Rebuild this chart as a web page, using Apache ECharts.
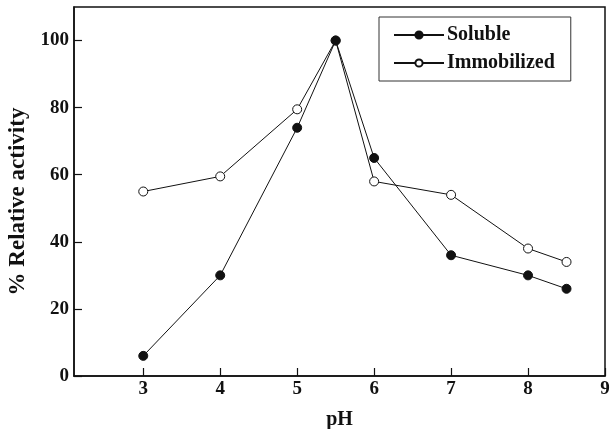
<!DOCTYPE html>
<html><head><meta charset="utf-8">
<script src="https://cdn.jsdelivr.net/npm/echarts@6/dist/echarts.min.js"></script>
<style>html,body{margin:0;padding:0;background:#fff}#c{width:612px;height:429px}</style>
</head><body><div id="c"></div>
<script>
var pH = [3, 4, 5, 5.5, 6, 7, 8, 8.5];
var soluble = [6, 30, 74, 100, 65, 36, 30, 26];
var immobilized = [55, 59.5, 79.5, 100, 58, 54, 38, 34];
var xTicks = [3, 4, 5, 6, 7, 8, 9];
var yTicks = [0, 20, 40, 60, 80, 100];
var FONT = '"Liberation Serif", "Times New Roman", serif';

function pairs(xs, ys){ return xs.map(function(x,i){return [x, ys[i]];}); }

var chart = echarts.init(document.getElementById('c'), null, {renderer:'canvas'});
chart.setOption({
  animation: false,
  grid: {left: 74, right: 7, top: 7, bottom: 53, show: true, borderColor: '#111', borderWidth: 1.5, containLabel: false, outerBoundsMode: 'none'},
  legend: {
    orient: 'vertical', left: 379, top: 17,
    padding: [8, 16, 8, 14], itemGap: 8,
    itemWidth: 50, itemHeight: 9,
    borderColor: '#333', borderWidth: 1,
    textStyle: {fontFamily: FONT, fontWeight: 'bold', fontSize: 20, color: '#111', padding: [0,0,0,-2]},
    data: ['Soluble', 'Immobilized']
  },
  xAxis: {
    type: 'value', min: 2.1, max: 9,
    name: 'pH', nameLocation: 'middle', nameGap: 34,
    nameTextStyle: {fontFamily: FONT, fontWeight: 'bold', fontSize: 20, color: '#111'},
    axisLine: {show: true, lineStyle: {color: '#111', width: 1.5}},
    axisTick: {show: true, inside: true, length: 8, customValues: xTicks, lineStyle: {color: '#111', width: 1.2}},
    axisLabel: {customValues: xTicks, fontFamily: FONT, fontWeight: 'bold', fontSize: 19, color: '#111', margin: 4},
    splitLine: {show: false}
  },
  yAxis: {
    type: 'value', min: 0, max: 110,
    name: '% Relative activity', nameLocation: 'middle', nameGap: 42,
    nameTextStyle: {fontFamily: FONT, fontWeight: 'bold', fontSize: 23, color: '#111', padding: [0,0,0,-20]},
    axisLine: {show: true, lineStyle: {color: '#111', width: 1.5}},
    axisTick: {show: true, inside: true, length: 8, customValues: yTicks, lineStyle: {color: '#111', width: 1.2}},
    axisLabel: {customValues: yTicks, fontFamily: FONT, fontWeight: 'bold', fontSize: 19, color: '#111', margin: 5},
    splitLine: {show: false}
  },
  series: [
    {name: 'Soluble', type: 'line', data: pairs(pH, soluble), symbol: 'circle', symbolSize: 9,
     lineStyle: {color: '#111', width: 1}, itemStyle: {color: '#111', borderColor: '#111', borderWidth: 1}, z: 3},
    {name: 'Immobilized', type: 'line', data: pairs(pH, immobilized), symbol: 'circle', symbolSize: 9,
     lineStyle: {color: '#111', width: 1}, itemStyle: {color: '#fff', borderColor: '#111', borderWidth: 1}, z: 2}
  ]
});
</script></body></html>
